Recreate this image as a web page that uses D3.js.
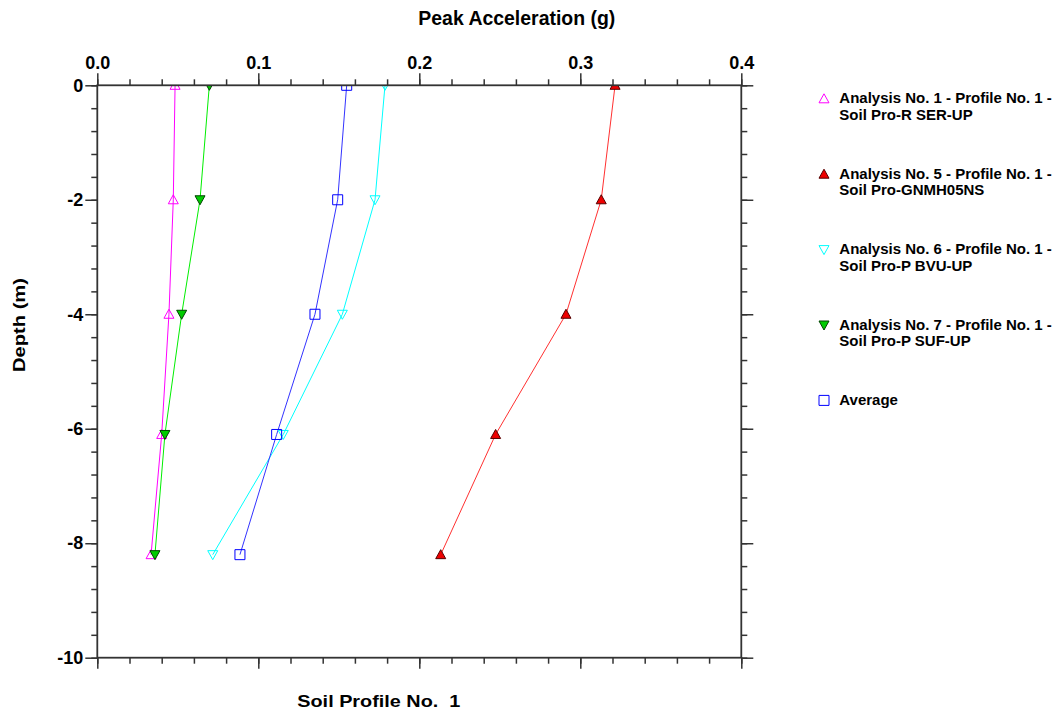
<!DOCTYPE html>
<html>
<head>
<meta charset="utf-8">
<script src="https://cdn.jsdelivr.net/npm/d3@7"></script>
<style>
  html, body { margin: 0; padding: 0; background: #fff; }
  svg { display: block; font-family: "Liberation Sans", Arial, sans-serif; font-weight: bold; }
</style>
</head>
<body>
<svg id="chart" width="1057" height="713"></svg>
<script>
// ---- data ----
const depths = [0, -2, -4, -6.1, -8.2];
const analysis1 = [0.0483, 0.0472, 0.0445, 0.0400, 0.0334];
const analysis5 = [0.3216, 0.3130, 0.2911, 0.2474, 0.2133];
const analysis6 = [0.1787, 0.1725, 0.1522, 0.1155, 0.0717];
const analysis7 = [0.0696, 0.0638, 0.0524, 0.0420, 0.0358];
const average   = [0.1549, 0.1493, 0.1352, 0.1114, 0.0886];
const seriesNames = [
  ["Analysis No. 1 - Profile No. 1 -", "Soil Pro-R SER-UP"],
  ["Analysis No. 5 - Profile No. 1 -", "Soil Pro-GNMH05NS"],
  ["Analysis No. 6 - Profile No. 1 -", "Soil Pro-P BVU-UP"],
  ["Analysis No. 7 - Profile No. 1 -", "Soil Pro-P SUF-UP"],
  ["Average"]
];
const xTickValues = [0, 0.1, 0.2, 0.3, 0.4];
const xTickLabels = ["0.0", "0.1", "0.2", "0.3", "0.4"];
const yTickValues = [0, -2, -4, -6, -8, -10];
const yTickLabels = ["0", "-2", "-4", "-6", "-8", "-10"];

// ---- styles ----
const styles = [
  {line: "#ff00ff", stroke: "#ff00ff", fill: "none", shape: "up"},
  {line: "#ff3030", stroke: "#550000", fill: "#ee0000", shape: "up"},
  {line: "#00ffff", stroke: "#00ffff", fill: "none", shape: "down"},
  {line: "#00ee00", stroke: "#004400", fill: "#00cc00", shape: "down"},
  {line: "#3333ff", stroke: "#0000ff", fill: "none", shape: "square"}
];
const seriesValues = [analysis1, analysis5, analysis6, analysis7, average];

const svg = d3.select("#chart");
const L = 97.3, R = 741.3, T = 85.3, B = 657.7;
const x = d3.scaleLinear().domain([0, 0.4]).range([L, R]);
const y = d3.scaleLinear().domain([0, -10]).range([T, B]);
const axisColor = "#333";

function markerPath(shape) {
  if (shape === "up") return "M0,-5L5,4L-5,4Z";
  if (shape === "down") return "M0,5L5,-4L-5,-4Z";
  return "M-5,-5H5V5H-5Z";
}

svg.append("defs").append("clipPath").attr("id", "plotclip")
  .append("rect").attr("x", L).attr("y", T).attr("width", R - L).attr("height", B - T);

// series
const plot = svg.append("g").attr("clip-path", "url(#plotclip)");
seriesValues.forEach((vals, i) => {
  const pts = vals.map((v, k) => [v, depths[k]]);
  plot.append("path")
    .attr("d", d3.line().x(d => x(d[0])).y(d => y(d[1]))(pts))
    .attr("fill", "none").attr("stroke", styles[i].line).attr("stroke-width", 1);
});
seriesValues.forEach((vals, i) => {
  const pts = vals.map((v, k) => [v, depths[k]]);
  plot.selectAll(null).data(pts).enter().append("path")
    .attr("transform", d => `translate(${x(d[0])},${y(d[1])})`)
    .attr("d", markerPath(styles[i].shape))
    .attr("fill", styles[i].fill).attr("stroke", styles[i].stroke).attr("stroke-width", 1);
});

// axes
function styleAxis(g) {
  g.select(".domain").remove();
  g.selectAll(".tick line").attr("stroke", axisColor).attr("stroke-width", 1.5);
  g.selectAll("text").attr("fill", "#000").attr("font-size", 18).attr("font-weight", "bold")
    .attr("font-family", "Liberation Sans, Arial, sans-serif");
}
const xMinor = d3.range(0, 0.4001, 0.02);
const yMinor = d3.range(0, -10.001, -0.4);

svg.append("g").attr("transform", `translate(0,${T})`)
  .call(d3.axisTop(x).tickValues(xMinor).tickSize(6).tickFormat("")).call(styleAxis);
svg.append("g").attr("transform", `translate(0,${T})`)
  .call(d3.axisTop(x).tickValues(xTickValues).tickSize(12).tickPadding(4.3)
    .tickFormat((d, i) => xTickLabels[i])).call(styleAxis);
svg.append("g").attr("transform", `translate(0,${B})`)
  .call(d3.axisBottom(x).tickValues(xMinor).tickSize(6).tickFormat("")).call(styleAxis);
svg.append("g").attr("transform", `translate(0,${B})`)
  .call(d3.axisBottom(x).tickValues(xTickValues).tickSize(11).tickFormat("")).call(styleAxis);

svg.append("g").attr("transform", `translate(${L},0)`)
  .call(d3.axisLeft(y).tickValues(yMinor).tickSize(6).tickFormat("")).call(styleAxis);
svg.append("g").attr("transform", `translate(${L},0)`)
  .call(d3.axisLeft(y).tickValues(yTickValues).tickSize(12).tickPadding(2)
    .tickFormat((d, i) => yTickLabels[i])).call(styleAxis);
svg.append("g").attr("transform", `translate(${R},0)`)
  .call(d3.axisRight(y).tickValues(yMinor).tickSize(6).tickFormat("")).call(styleAxis);
svg.append("g").attr("transform", `translate(${R},0)`)
  .call(d3.axisRight(y).tickValues(yTickValues).tickSize(12).tickFormat("")).call(styleAxis);

// frame
svg.append("rect").attr("x", L).attr("y", T).attr("width", R - L).attr("height", B - T)
  .attr("fill", "none").attr("stroke", axisColor).attr("stroke-width", 1.8);

// titles
svg.append("text").attr("x", 418.3).attr("y", 25).attr("font-size", 20)
  .attr("textLength", 197).attr("lengthAdjust", "spacingAndGlyphs")
  .text("Peak Acceleration (g)");
svg.append("text").attr("x", 297.3).attr("y", 707).attr("font-size", 17)
  .attr("textLength", 163).attr("lengthAdjust", "spacingAndGlyphs")
  .attr("xml:space", "preserve").style("white-space", "pre")
  .text("Soil Profile No.  1");
svg.append("text").attr("transform", "translate(25,372) rotate(-90)").attr("font-size", 17)
  .attr("textLength", 94).attr("lengthAdjust", "spacingAndGlyphs")
  .text("Depth (m)");

// legend
const legend = svg.append("g");
seriesNames.forEach((lines, i) => {
  const base = 103.3 + i * 75.4;
  legend.append("path")
    .attr("transform", `translate(824,${base - 4.5})`)
    .attr("d", markerPath(styles[i].shape))
    .attr("fill", styles[i].fill).attr("stroke", styles[i].stroke).attr("stroke-width", 1);
  lines.forEach((t, j) => {
    legend.append("text").attr("x", 839.3).attr("y", base + j * 16.6)
      .attr("font-size", 15).text(t);
  });
});
</script>
</body>
</html>
